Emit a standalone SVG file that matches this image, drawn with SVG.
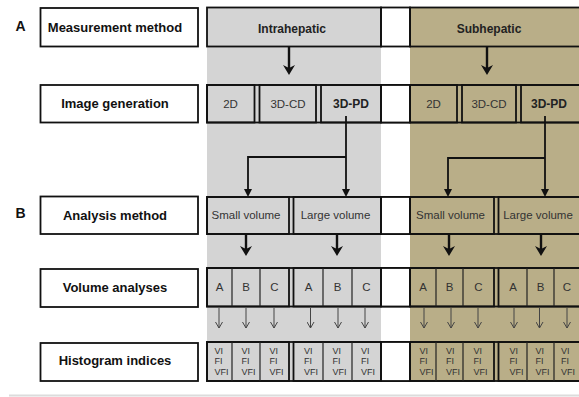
<svg xmlns="http://www.w3.org/2000/svg" width="579" height="397" viewBox="0 0 579 397">
<style>
.lbl{fill:#fff;stroke:#111;stroke-width:1.8}
.cell{fill:none;stroke:#111;stroke-width:1.8}
.thin{fill:none;stroke:#222;stroke-width:1.2}
.gap{fill:#fff;stroke:#111;stroke-width:1.8}
.lt{font-family:"Liberation Sans",Arial,sans-serif;font-size:13px;font-weight:bold;fill:#111;text-anchor:middle}
.hd{font-family:"Liberation Sans",Arial,sans-serif;font-size:12px;font-weight:bold;fill:#222;text-anchor:middle}
.ct{font-family:"Liberation Sans",Arial,sans-serif;font-size:11.5px;fill:#333;text-anchor:middle}
.cb{font-family:"Liberation Sans",Arial,sans-serif;font-size:12px;font-weight:bold;fill:#222;text-anchor:middle}
.ix{font-family:"Liberation Sans",Arial,sans-serif;font-size:9px;fill:#333}
.pl{font-family:"Liberation Sans",Arial,sans-serif;font-size:14px;font-weight:bold;fill:#111}
.thick{stroke:#111;stroke-width:2.4;fill:none}
.med{stroke:#111;stroke-width:1.8;fill:none}
.sm{stroke:#444;stroke-width:1;fill:none}
</style>
<defs>
<marker id="ahT" markerUnits="userSpaceOnUse" viewBox="0 0 10 12" refX="6" refY="6" markerWidth="10" markerHeight="12" orient="auto">
<path d="M0,0 L10,6 L0,12 L3,6 z" fill="#111"/>
</marker>
<marker id="ahM" markerUnits="userSpaceOnUse" viewBox="0 0 8 8" refX="6" refY="4" markerWidth="8" markerHeight="8" orient="auto">
<path d="M0,0 L8,4 L0,8 z" fill="#111"/>
</marker>
<marker id="ahS" markerUnits="userSpaceOnUse" viewBox="0 0 7 8" refX="6.5" refY="4" markerWidth="7" markerHeight="8" orient="auto">
<path d="M0.5,0.5 L6.5,4 L0.5,7.5" fill="none" stroke="#444" stroke-width="1"/>
</marker>
</defs>

<!-- background bands -->
<rect x="207" y="7.5" width="174" height="373.5" fill="#d4d4d4"/>
<rect x="410" y="7.5" width="172" height="373.5" fill="#b9ae88"/>
<line x1="9" y1="395.5" x2="579" y2="395.5" stroke="#dcdcdc" stroke-width="2"/>

<text class="pl" x="15.5" y="31">A</text>
<text class="pl" x="15.5" y="217.5">B</text>

<!-- left labels -->
<g id="lbl-measurement"><rect class="lbl" x="40.5" y="8" width="157.5" height="38.5"/><text class="lt" x="115" y="31.5">Measurement method</text></g>
<g id="lbl-image"><rect class="lbl" x="40.5" y="85" width="157.5" height="37.5"/><text class="lt" x="115" y="108">Image generation</text></g>
<g id="lbl-analysis"><rect class="lbl" x="40.5" y="196.5" width="157.5" height="37.5"/><text class="lt" x="115" y="219.5">Analysis method</text></g>
<g id="lbl-volume"><rect class="lbl" x="40.5" y="269" width="157.5" height="38"/><text class="lt" x="115" y="292">Volume analyses</text></g>
<g id="lbl-histogram"><rect class="lbl" x="40.5" y="343" width="157.5" height="38"/><text class="lt" x="115" y="365">Histogram indices</text></g>

<!-- row 1 -->
<g id="row1-gap"><rect class="gap" x="381" y="7.5" width="29" height="39"/></g>
<g id="intrahepatic"><rect class="cell" x="207" y="7.5" width="174" height="39"/><text class="hd" x="292" y="32.5">Intrahepatic</text></g>
<g id="subhepatic"><rect class="cell" x="410" y="7.5" width="175" height="39"/><text class="hd" x="489" y="32.5">Subhepatic</text></g>

<!-- row 2 -->
<g id="row2-outline"><rect class="cell" x="207" y="85" width="378" height="37.5"/><rect class="gap" x="381" y="85" width="29" height="37.5"/></g>
<g id="i-2d"><rect class="cell" x="207" y="85" width="47.5" height="37.5"/><text class="ct" x="230.5" y="107.5">2D</text></g>
<g id="i-3dcd"><rect class="cell" x="259.5" y="85" width="56.5" height="37.5"/><text class="ct" x="288" y="107.5">3D-CD</text></g>
<g id="i-3dpd"><rect class="cell" x="321" y="85" width="60" height="37.5"/><text class="cb" x="351" y="107.5">3D-PD</text></g>
<g id="s-2d"><rect class="cell" x="410" y="85" width="47" height="37.5"/><text class="ct" x="433.5" y="107.5">2D</text></g>
<g id="s-3dcd"><rect class="cell" x="462" y="85" width="54" height="37.5"/><text class="ct" x="489" y="107.5">3D-CD</text></g>
<g id="s-3dpd"><rect class="cell" x="521" y="85" width="64" height="37.5"/><text class="cb" x="549" y="107.5">3D-PD</text></g>

<!-- row 3 -->
<g id="row3-outline"><rect class="cell" x="207" y="197" width="378" height="37"/><rect class="gap" x="381" y="197" width="29" height="37"/></g>
<g id="i-small"><rect class="cell" x="207" y="197" width="82" height="37"/><text class="ct" x="246" y="219">Small volume</text></g>
<g id="i-large"><rect class="cell" x="293.5" y="197" width="87.5" height="37"/><text class="ct" x="335.5" y="219">Large volume</text></g>
<g id="s-small"><rect class="cell" x="410" y="197" width="84" height="37"/><text class="ct" x="450.5" y="219">Small volume</text></g>
<g id="s-large"><rect class="cell" x="498.5" y="197" width="86.5" height="37"/><text class="ct" x="538" y="219">Large volume</text></g>

<!-- row 4 -->
<g id="row4-outline"><rect class="cell" x="207" y="268" width="378" height="38.5"/><rect class="gap" x="381" y="268" width="29" height="38.5"/></g>
<g id="i-small-vol"><rect class="cell" x="207" y="268" width="82" height="38.5"/><line class="thin" x1="232" y1="268" x2="232" y2="306.5"/><line class="thin" x1="260" y1="268" x2="260" y2="306.5"/>
<text class="ct" x="219.5" y="291">A</text><text class="ct" x="246" y="291">B</text><text class="ct" x="274.5" y="291">C</text></g>
<g id="i-large-vol"><rect class="cell" x="293.5" y="268" width="87.5" height="38.5"/><line class="thin" x1="323" y1="268" x2="323" y2="306.5"/><line class="thin" x1="352" y1="268" x2="352" y2="306.5"/>
<text class="ct" x="308.5" y="291">A</text><text class="ct" x="337.5" y="291">B</text><text class="ct" x="366.5" y="291">C</text></g>
<g id="s-small-vol"><rect class="cell" x="410" y="268" width="84" height="38.5"/><line class="thin" x1="436" y1="268" x2="436" y2="306.5"/><line class="thin" x1="463" y1="268" x2="463" y2="306.5"/>
<text class="ct" x="423" y="291">A</text><text class="ct" x="449.5" y="291">B</text><text class="ct" x="478.5" y="291">C</text></g>
<g id="s-large-vol"><rect class="cell" x="498.5" y="268" width="86.5" height="38.5"/><line class="thin" x1="527" y1="268" x2="527" y2="306.5"/><line class="thin" x1="554" y1="268" x2="554" y2="306.5"/>
<text class="ct" x="513" y="291">A</text><text class="ct" x="540.5" y="291">B</text><text class="ct" x="567" y="291">C</text></g>

<!-- row 5 -->
<g id="row5-outline"><rect class="cell" x="207" y="342" width="378" height="39"/><rect class="gap" x="381" y="342" width="29" height="39"/></g>
<g id="i-small-idx"><rect class="cell" x="207" y="342" width="82" height="39"/><line class="thin" x1="232" y1="342" x2="232" y2="381"/><line class="thin" x1="260" y1="342" x2="260" y2="381"/>
<text class="ix" x="214.5" y="353.5">VI</text><text class="ix" x="214.5" y="364">FI</text><text class="ix" x="214.5" y="374.5">VFI</text>
<text class="ix" x="241.5" y="353.5">VI</text><text class="ix" x="241.5" y="364">FI</text><text class="ix" x="241.5" y="374.5">VFI</text>
<text class="ix" x="269.5" y="353.5">VI</text><text class="ix" x="269.5" y="364">FI</text><text class="ix" x="269.5" y="374.5">VFI</text></g>
<g id="i-large-idx"><rect class="cell" x="293.5" y="342" width="87.5" height="39"/><line class="thin" x1="323" y1="342" x2="323" y2="381"/><line class="thin" x1="352" y1="342" x2="352" y2="381"/>
<text class="ix" x="304" y="353.5">VI</text><text class="ix" x="304" y="364">FI</text><text class="ix" x="304" y="374.5">VFI</text>
<text class="ix" x="332.5" y="353.5">VI</text><text class="ix" x="332.5" y="364">FI</text><text class="ix" x="332.5" y="374.5">VFI</text>
<text class="ix" x="361" y="353.5">VI</text><text class="ix" x="361" y="364">FI</text><text class="ix" x="361" y="374.5">VFI</text></g>
<g id="s-small-idx"><rect class="cell" x="410" y="342" width="84" height="39"/><line class="thin" x1="436" y1="342" x2="436" y2="381"/><line class="thin" x1="463" y1="342" x2="463" y2="381"/>
<text class="ix" x="419.5" y="353.5">VI</text><text class="ix" x="419.5" y="364">FI</text><text class="ix" x="419.5" y="374.5">VFI</text>
<text class="ix" x="446" y="353.5">VI</text><text class="ix" x="446" y="364">FI</text><text class="ix" x="446" y="374.5">VFI</text>
<text class="ix" x="473.5" y="353.5">VI</text><text class="ix" x="473.5" y="364">FI</text><text class="ix" x="473.5" y="374.5">VFI</text></g>
<g id="s-large-idx"><rect class="cell" x="498.5" y="342" width="86.5" height="39"/><line class="thin" x1="527" y1="342" x2="527" y2="381"/><line class="thin" x1="554" y1="342" x2="554" y2="381"/>
<text class="ix" x="509.5" y="353.5">VI</text><text class="ix" x="509.5" y="364">FI</text><text class="ix" x="509.5" y="374.5">VFI</text>
<text class="ix" x="535.5" y="353.5">VI</text><text class="ix" x="535.5" y="364">FI</text><text class="ix" x="535.5" y="374.5">VFI</text>
<text class="ix" x="561" y="353.5">VI</text><text class="ix" x="561" y="364">FI</text><text class="ix" x="561" y="374.5">VFI</text></g>

<!-- connectors -->
<g id="connectors">
<line class="thick" x1="289" y1="46.5" x2="289" y2="71" marker-end="url(#ahT)"/>
<line class="thick" x1="487" y1="46.5" x2="487" y2="71" marker-end="url(#ahT)"/>
<path class="med" d="M346,116 V195" marker-end="url(#ahM)"/>
<path class="med" d="M346,157 H248 V195" marker-end="url(#ahM)"/>
<path class="med" d="M545,116 V195" marker-end="url(#ahM)"/>
<path class="med" d="M545,158 H448 V195" marker-end="url(#ahM)"/>
<line class="thick" x1="246" y1="234" x2="246" y2="252" marker-end="url(#ahT)"/>
<line class="thick" x1="337" y1="234" x2="337" y2="252" marker-end="url(#ahT)"/>
<line class="thick" x1="449" y1="234" x2="449" y2="252" marker-end="url(#ahT)"/>
<line class="thick" x1="541" y1="234" x2="541" y2="252" marker-end="url(#ahT)"/>
<line class="sm" x1="219" y1="308" x2="219" y2="328" marker-end="url(#ahS)"/>
<line class="sm" x1="246" y1="308" x2="246" y2="328" marker-end="url(#ahS)"/>
<line class="sm" x1="274" y1="308" x2="274" y2="328" marker-end="url(#ahS)"/>
<line class="sm" x1="310.5" y1="308" x2="310.5" y2="328" marker-end="url(#ahS)"/>
<line class="sm" x1="338" y1="308" x2="338" y2="328" marker-end="url(#ahS)"/>
<line class="sm" x1="365" y1="308" x2="365" y2="328" marker-end="url(#ahS)"/>
<line class="sm" x1="424" y1="308" x2="424" y2="328" marker-end="url(#ahS)"/>
<line class="sm" x1="451" y1="308" x2="451" y2="328" marker-end="url(#ahS)"/>
<line class="sm" x1="478" y1="308" x2="478" y2="328" marker-end="url(#ahS)"/>
<line class="sm" x1="514" y1="308" x2="514" y2="328" marker-end="url(#ahS)"/>
<line class="sm" x1="539.5" y1="308" x2="539.5" y2="328" marker-end="url(#ahS)"/>
<line class="sm" x1="567" y1="308" x2="567" y2="328" marker-end="url(#ahS)"/>
</g>
</svg>
